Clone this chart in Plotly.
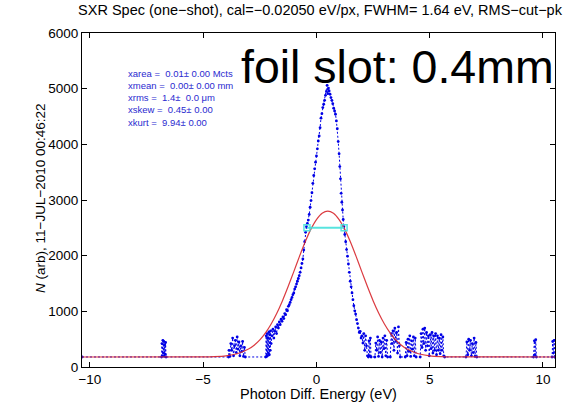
import plotly.graph_objects as go

# --- measured spectrum (photon energy offset in eV, counts) ---
energy_ev = [
    -10.35, -6.84,
    -6.82, -6.80, -6.78, -6.76, -6.74, -6.72, -6.70, -6.68, -6.66, -6.64,
    -3.88,
    -3.86, -3.82, -3.78, -3.74, -3.70, -3.66, -3.62, -3.58, -3.54, -3.50,
    -3.46, -3.42, -3.38, -3.34, -3.30, -3.26, -3.22, -3.18, -3.14,
    -2.24,
    -2.22, -2.20, -2.18, -2.16, -2.14, -2.12, -2.10, -2.08, -2.06, -2.04,
    -2.02, -2.00,
    -1.96, -1.92, -1.88, -1.84, -1.80, -1.76, -1.72, -1.68, -1.64, -1.60,
    -1.56, -1.52, -1.48, -1.44, -1.40, -1.36, -1.32, -1.28, -1.24, -1.20,
    -1.16, -1.12, -1.08, -1.04, -1.00, -0.96, -0.92, -0.88, -0.84, -0.80,
    -0.76, -0.72, -0.68, -0.64, -0.60, -0.56, -0.52, -0.48, -0.44, -0.40,
    -0.36, -0.32, -0.28, -0.24, -0.20, -0.16, -0.12, -0.08, -0.04, 0.00,
    0.04, 0.08, 0.12, 0.16, 0.20, 0.24, 0.28, 0.32, 0.36, 0.40,
    0.44, 0.47, 0.50, 0.53, 0.56, 0.60, 0.64, 0.68, 0.72, 0.76,
    0.80, 0.84, 0.88, 0.92, 0.96, 1.00, 1.03, 1.06, 1.09, 1.12,
    1.15, 1.18, 1.21, 1.25, 1.29, 1.33, 1.37, 1.41, 1.45, 1.49,
    1.53, 1.57, 1.61, 1.65, 1.69, 1.73, 1.77, 1.81, 1.85, 1.89,
    1.93, 1.97, 2.01, 2.05,
    2.09, 2.13, 2.17, 2.21, 2.25, 2.29,
    2.32, 2.35, 2.38, 2.41,
    2.58, 2.62, 2.66, 2.70, 2.74, 2.78, 2.82, 2.86, 2.90, 2.94,
    2.98, 3.02, 3.06, 3.10, 3.14,
    3.26, 3.30, 3.34, 3.38, 3.42, 3.46, 3.50, 3.54, 3.58, 3.62,
    3.66, 3.70,
    3.92, 3.96, 4.00, 4.04, 4.08, 4.12, 4.16, 4.20, 4.24, 4.28,
    4.32, 4.36, 4.40,
    4.58, 4.62, 4.66, 4.70, 4.74, 4.78, 4.82, 4.86, 4.90, 4.94,
    4.98, 5.02, 5.06, 5.10, 5.14, 5.18, 5.22, 5.26, 5.30, 5.34,
    5.38, 5.42, 5.46, 5.50, 5.54, 5.58, 5.62, 5.66,
    6.60, 6.64, 6.68, 6.72, 6.76, 6.80, 6.84, 6.88, 6.92, 6.96,
    7.00, 7.04, 7.08,
    9.58, 9.62, 9.65, 9.68, 9.71,
    10.40, 10.43, 10.46, 10.49, 10.52, 10.53,
]
counts = [
    180, 180,
    420, 200, 480, 250, 460, 190, 400, 230, 440, 180,
    180,
    300, 190, 420, 300, 520, 200, 380, 480, 260, 540,
    320, 450, 200, 380, 280, 460, 190, 350, 180,
    180,
    560, 190, 600, 200, 520, 250, 630, 220, 580, 300,
    650, 420,
    560, 680, 520, 640, 720, 600, 760, 700, 810, 760,
    860, 820, 900, 870, 960, 940, 1030, 1010, 1090, 1120,
    1160, 1210, 1250, 1300, 1330, 1400, 1440, 1490, 1540, 1590,
    1640, 1700, 1780, 1860, 1940, 2100, 2250, 2420, 2520, 2580,
    2640, 2740, 2870, 2990, 3130, 3300, 3440, 3560, 3680, 3790,
    3920, 4060, 4150, 4300, 4470, 4550, 4660, 4720, 4790, 4880,
    4950, 5060, 4910, 5010, 4960, 4900, 4840, 4790, 4730, 4650,
    4600, 4540, 4420, 4280, 4050, 3830, 3600, 3380, 3120, 2960,
    2820, 2650, 2520, 2380, 2250, 2110, 1990, 1850, 1700, 1540,
    1440, 1330, 1210, 1100, 1010, 950, 850, 780, 700, 620,
    640, 520, 560, 430,
    600, 300, 560, 380, 200, 180,
    470, 200, 520, 180,
    180, 430, 300, 540, 190, 480, 260, 450, 180, 520,
    330, 560, 200, 480, 180,
    180, 600, 420, 650, 300, 700, 460, 620, 250, 720,
    380, 180,
    180, 440, 200, 500, 280, 560, 190, 470, 320, 540,
    200, 520, 180,
    180, 600, 350, 680, 420, 700, 300, 620, 380, 560,
    200, 580, 330, 620, 250, 560, 300, 600, 220, 560,
    300, 520, 240, 580, 300, 540, 200, 180,
    180, 450, 220, 500, 300, 480, 200, 420, 260, 520,
    190, 440, 180,
    180, 470, 220, 490, 180,
    180, 460, 250, 480, 180, 180,
]

# --- Gaussian fit curve as plotted ---
fit_energy_ev = [
    -10.35, -5.00, -4.50, -4.00, -3.50, -3.00, -2.75, -2.50, -2.25, -2.00,
    -1.75, -1.50, -1.25, -1.00, -0.75, -0.50, -0.25, 0.00, 0.25, 0.50,
    0.75, 1.00, 1.25, 1.50, 1.75, 2.00, 2.25, 2.50, 2.75, 3.00,
    3.25, 3.50, 3.75, 4.00, 4.50, 5.00, 5.50, 6.00, 10.53,
]
fit_counts = [
    180, 181, 187, 201, 238, 322, 392, 488, 614, 773,
    966, 1192, 1445, 1714, 1987, 2245, 2472, 2649, 2761, 2800,
    2761, 2649, 2472, 2245, 1987, 1714, 1445, 1192, 966, 773,
    614, 488, 392, 322, 238, 201, 187, 182, 180,
]

# --- FWHM marker ---
fwhm_ev = 1.64
fwhm_center_ev = 0.40
half_max_counts = 2500

# --- text ---
title_text = ("SXR Spec (one\u2212shot), cal=\u22120.02050 eV/px, "
              "FWHM= 1.64 eV, RMS\u2212cut\u2212pk")
x_title = "Photon Diff. Energy (eV)"
y_title = "<i>N</i> (arb), 11\u2212JUL\u22122010 00:46:22"
note_text = "foil slot: 0.4mm"
stats_lines = [
    "xarea =  0.01\u00b1 0.00 Mcts",
    "xmean =  0.00\u00b1 0.00 mm",
    "xrms =  1.4\u00b1  0.0 \u03bcm",
    "xskew =  0.45\u00b1 0.00",
    "xkurt =  9.94\u00b1 0.00",
]
x_tickvals = [-10, -5, 0, 5, 10]
y_tickvals = [0, 1000, 2000, 3000, 4000, 5000, 6000]
x_range = [-10.35, 10.53]
y_range = [0, 6000]

FONT = "Liberation Sans, Arial, Helvetica, sans-serif"
BLUE = "#0000e6"
RED = "#d8262c"
CYAN = "rgba(70,225,220,0.9)"

fig = go.Figure()

fig.add_trace(go.Scatter(
    x=energy_ev, y=counts, mode="lines+markers",
    line=dict(color=BLUE, width=1, dash="2px,2px"),
    marker=dict(size=2.8, color=BLUE),
    hoverinfo="skip",
))

fig.add_trace(go.Scatter(
    x=fit_energy_ev, y=fit_counts, mode="lines",
    line=dict(color=RED, width=1.2, shape="spline", smoothing=0.6),
    opacity=0.9,
    hoverinfo="skip",
))

lo = fwhm_center_ev - fwhm_ev / 2
hi = fwhm_center_ev + fwhm_ev / 2
fig.add_trace(go.Scatter(
    x=[lo, hi], y=[half_max_counts, half_max_counts], mode="lines+markers",
    line=dict(color=CYAN, width=2),
    marker=dict(symbol="square-open", size=6, color=CYAN,
                line=dict(color=CYAN, width=1.5)),
    hoverinfo="skip",
))

axis_common = dict(
    showline=True, linecolor="black", linewidth=1, mirror="ticks",
    ticks="inside", ticklen=5, tickcolor="black", tickwidth=1,
    showgrid=False, zeroline=False,
    tickfont=dict(family=FONT, size=13.5, color="black"),
)

annotations = []
plot_w = 583 - 82 - 28
plot_h = 402 - 33 - 35
for i, line in enumerate(stats_lines):
    annotations.append(dict(
        text=line, xref="paper", yref="paper",
        x=(126 - 82) / plot_w, y=1 - (73 + i * 12.3 - 33) / plot_h,
        xanchor="left", yanchor="middle", showarrow=False,
        font=dict(family=FONT, size=9.5, color="#2a2ad0"),
    ))
annotations.append(dict(
    text=note_text, xref="paper", yref="paper",
    x=(556 - 82) / plot_w, y=1 - (67 - 33) / plot_h,
    xanchor="right", yanchor="middle", showarrow=False,
    font=dict(family=FONT, size=46.5, color="black"),
))
annotations.append(dict(
    text=x_title, xref="paper", yref="paper",
    x=0.5, y=-(394 - 367) / plot_h,
    xanchor="center", yanchor="middle", showarrow=False,
    font=dict(family=FONT, size=14.5, color="black"),
))
annotations.append(dict(
    text=y_title, xref="paper", yref="paper",
    x=(40 - 82) / plot_w, y=1 - (198 - 33) / plot_h,
    xanchor="center", yanchor="middle", showarrow=False, textangle=-90,
    font=dict(family=FONT, size=13.5, color="black"),
))

fig.update_layout(
    width=583, height=402,
    margin=dict(l=82, r=28, t=33, b=35),
    paper_bgcolor="white", plot_bgcolor="white",
    showlegend=False,
    title=dict(text=title_text, x=320 / 583, xanchor="center",
               y=1 - 10 / 402, yanchor="middle",
               font=dict(family=FONT, size=14.5, color="black")),
    xaxis=dict(range=x_range, tickvals=x_tickvals, **axis_common),
    yaxis=dict(range=y_range, tickvals=y_tickvals, **axis_common),
    annotations=annotations,
)

fig.write_html("out.html", config={"displayModeBar": False})
